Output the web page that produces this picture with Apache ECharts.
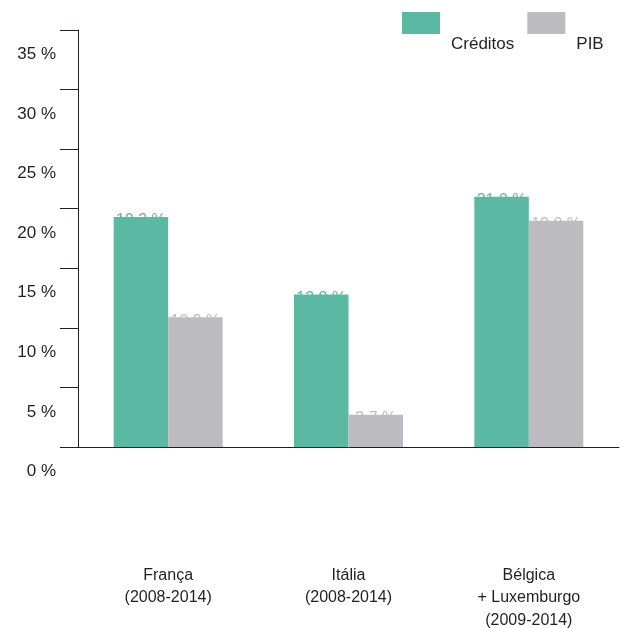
<!DOCTYPE html>
<html>
<head>
<meta charset="utf-8">
<script src="https://cdn.jsdelivr.net/npm/echarts@6/dist/echarts.min.js"></script>
<style>
  html, body { margin: 0; padding: 0; background: #fff; }
  #chart { width: 622px; height: 628px; }
</style>
</head>
<body>
<div id="chart"></div>
<script>
// Growth of credit vs. GDP by country
const categories = ['França\n(2008-2014)', 'Itália\n(2008-2014)', 'Bélgica\n+ Luxemburgo\n(2009-2014)'];
const creditos = [19.3, 12.8, 21.0];
const pib = [10.9, 2.7, 19.0];
const seriesNames = ['Créditos', 'PIB'];

const GREEN = '#5bb8a3';
const GREY = '#bcbcc0';
const FONT = '"Liberation Sans", Arial, sans-serif';

const chart = echarts.init(document.getElementById('chart'), null, { renderer: 'canvas' });

const fmt = p => p.value.toFixed(1) + ' %';

// value labels sit behind the bars so only their top part shows
function labelSeries(data, color) {
  return {
    type: 'bar',
    xAxisIndex: 1,
    data: data,
    barWidth: 54.5,
    barGap: '0%',
    z: 1,
    silent: true,
    itemStyle: { color: 'rgba(0,0,0,0)' },
    label: {
      show: true,
      position: 'top',
      distance: -12,
      formatter: fmt,
      color: color,
      fontFamily: FONT,
      fontSize: 16
    },
    tooltip: { show: false }
  };
}

const option = {
  animation: false,
  textStyle: { fontFamily: FONT },
  grid: { left: 78, right: 3, top: 30, bottom: 181, containLabel: false, outerBoundsMode: 'none' },
  legend: {
    data: seriesNames,
    left: 402,
    top: -19,
    padding: 0,
    itemWidth: 38,
    itemHeight: 22,
    itemGap: 13,
    icon: 'rect',
    selectedMode: false,
    // names drop below their swatches: an empty first line pushes them down
    formatter: name => '\n{t|' + name + '}',
    textStyle: {
      fontFamily: FONT,
      fontSize: 17,
      lineHeight: 42,
      color: '#231f20',
      rich: {
        t: {
          fontFamily: FONT,
          fontSize: 17,
          lineHeight: 42,
          color: '#231f20',
          padding: [0, 0, 0, 6]
        }
      }
    }
  },
  xAxis: [
    {
      type: 'category',
      data: categories,
      axisLine: { show: true, lineStyle: { color: '#231f20', width: 1 } },
      axisTick: { show: false },
      axisLabel: {
        margin: 117,
        fontFamily: FONT,
        fontSize: 16,
        color: '#231f20',
        lineHeight: 22.5,
        verticalAlign: 'top'
      }
    },
    {
      type: 'category',
      data: categories,
      show: false
    }
  ],
  yAxis: {
    type: 'value',
    min: 0,
    max: 35,
    interval: 5,
    axisLine: { show: true, lineStyle: { color: '#231f20', width: 1 } },
    axisTick: { show: true, inside: false, length: 18, lineStyle: { color: '#231f20', width: 1 } },
    splitLine: { show: false },
    axisLabel: {
      margin: 22,
      showMinLabel: true,
      showMaxLabel: true,
      hideOverlap: false,
      formatter: '{value} %',
      // tick values print below their tick marks
      verticalAlign: 'top',
      lineHeight: 49,
      fontFamily: FONT,
      fontSize: 17,
      color: '#231f20'
    }
  },
  series: [
    {
      name: seriesNames[0],
      type: 'bar',
      data: creditos,
      barWidth: 54.5,
      barGap: '0%',
      z: 3,
      itemStyle: { color: GREEN }
    },
    {
      name: seriesNames[1],
      type: 'bar',
      data: pib,
      barWidth: 54.5,
      barGap: '0%',
      z: 3,
      itemStyle: { color: GREY }
    },
    Object.assign(labelSeries(creditos, GREEN), { name: 'lbl-c' }),
    Object.assign(labelSeries(pib, GREY), { name: 'lbl-p' })
  ]
};

chart.setOption(option);
</script>
</body>
</html>
